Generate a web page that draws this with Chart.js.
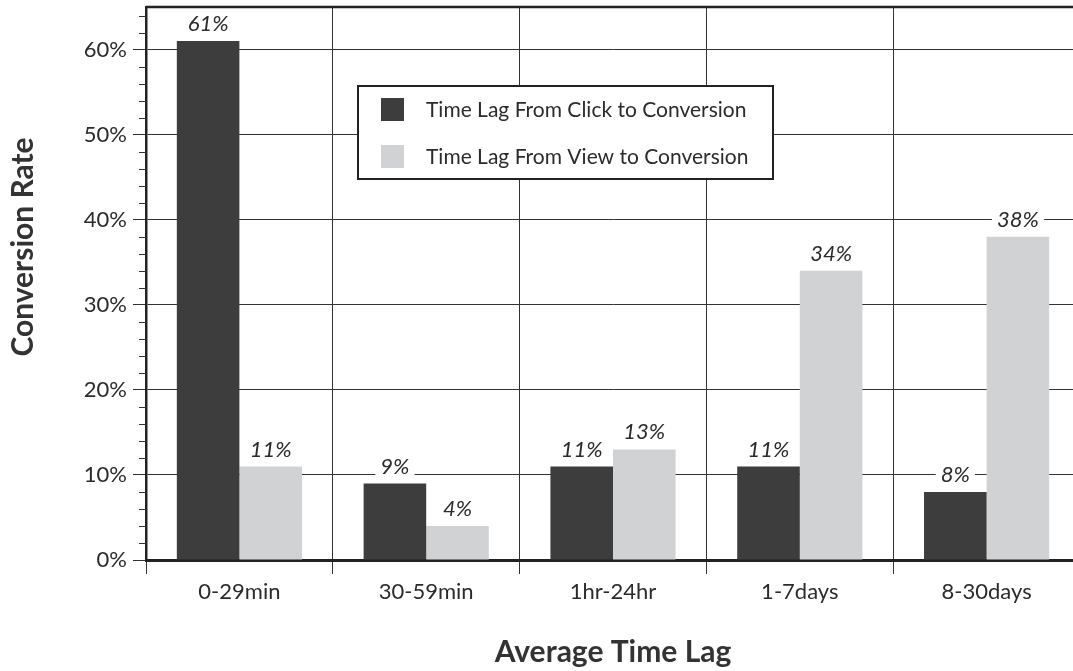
<!DOCTYPE html>
<html>
<head>
<meta charset="utf-8">
<script src="https://cdn.jsdelivr.net/npm/chart.js@4/dist/chart.umd.min.js"></script>
<style>
  html, body { margin: 0; padding: 0; background: #fff; overflow: hidden; }
  #wrap { width: 1073px; height: 671px; overflow: hidden; }
</style>
</head>
<body>
<div id="wrap"><canvas id="grafico" width="1085" height="671"></canvas></div>
<script>
// dados do grafico
const categorias = ['0-29min', '30-59min', '1hr-24hr', '1-7days', '8-30days'];
const clickParaConversao = [61, 9, 11, 11, 8];
const viewParaConversao = [11, 4, 13, 34, 38];
const nomesSeries = ['Time Lag From Click to Conversion', 'Time Lag From View to Conversion'];
const coresSeries = ['#3d3d3d', '#d1d2d4'];
const yMax = 65;
const passoMenor = 2;
const passoMaior = 10;

const FONTE = 'Lato, "Open Sans", sans-serif';
const corTexto = '#2b2b2b';
const corLinha = '#333';

// rotulos em cima das barras
const rotulosPlugin = {
  id: 'rotulos',
  afterDatasetsDraw(chart) {
    const ctx = chart.ctx;
    ctx.save();
    ctx.font = 'italic 22px ' + FONTE;
    ctx.textAlign = 'center';
    ctx.textBaseline = 'middle';
    chart.data.datasets.forEach((ds, i) => {
      const meta = chart.getDatasetMeta(i);
      meta.data.forEach((bar, j) => {
        const txt = ds.data[j] + '%';
        const w = ctx.measureText(txt).width;
        const y = bar.y - 17;
        ctx.fillStyle = '#fff';
        ctx.fillRect(bar.x - w / 2 - 5, y - 11, w + 10, 22);
        ctx.fillStyle = corTexto;
        ctx.fillText(txt, bar.x, y);
      });
    });
    ctx.restore();
  }
};

// moldura, ticks menores, titulo y e legenda
const extrasPlugin = {
  id: 'extras',
  afterDraw(chart) {
    const ctx = chart.ctx;
    const area = chart.chartArea;
    const escalaY = chart.scales.y;
    ctx.save();

    // ticks menores
    ctx.strokeStyle = corLinha;
    ctx.lineWidth = 1;
    escalaY.ticks.forEach(t => {
      if (t.value % passoMaior !== 0) {
        const y = Math.round(escalaY.getPixelForValue(t.value)) + 0.5;
        ctx.beginPath();
        ctx.moveTo(area.left - 7, y);
        ctx.lineTo(area.left, y);
        ctx.stroke();
      }
    });

    // borda de cima e direita
    ctx.strokeStyle = '#222';
    ctx.lineWidth = 2.5;
    ctx.beginPath();
    ctx.moveTo(area.left, area.top);
    ctx.lineTo(area.right, area.top);
    ctx.lineTo(area.right, area.bottom);
    ctx.stroke();

    // titulo do eixo y
    ctx.fillStyle = '#333';
    ctx.font = 'bold 30px ' + FONTE;
    ctx.textAlign = 'center';
    ctx.textBaseline = 'middle';
    ctx.translate(23, 247);
    ctx.rotate(-Math.PI / 2);
    ctx.fillText('Conversion Rate', 0, 0);
    ctx.setTransform(1, 0, 0, 1, 0, 0);

    // legenda
    const lx = 358, ly = 86, lw = 415, lh = 93;
    ctx.fillStyle = '#fff';
    ctx.fillRect(lx, ly, lw, lh);
    ctx.strokeStyle = '#222';
    ctx.lineWidth = 2;
    ctx.strokeRect(lx, ly, lw, lh);
    ctx.font = '21px ' + FONTE;
    ctx.textAlign = 'left';
    ctx.textBaseline = 'middle';
    chart.data.datasets.forEach((ds, i) => {
      const y = ly + 12 + i * 47;
      ctx.fillStyle = ds.backgroundColor;
      ctx.fillRect(lx + 23, y, 23, 23);
      ctx.fillStyle = corTexto;
      ctx.fillText(ds.label, lx + 68, y + 12);
    });
    ctx.restore();
  }
};

new Chart(document.getElementById('grafico'), {
  type: 'bar',
  data: {
    labels: categorias,
    datasets: [
      { label: nomesSeries[0], data: clickParaConversao, backgroundColor: coresSeries[0] },
      { label: nomesSeries[1], data: viewParaConversao, backgroundColor: coresSeries[1] }
    ]
  },
  options: {
    responsive: false,
    animation: false,
    layout: { padding: { left: 0, top: 7, right: 5, bottom: 0 } },
    datasets: { bar: { barPercentage: 1, categoryPercentage: 0.67 } },
    plugins: {
      legend: { display: false },
      tooltip: { enabled: false }
    },
    scales: {
      x: {
        afterFit(scale) { scale.height = 111; scale.paddingLeft = 0; scale.paddingRight = 0; },
        grid: { offset: true, color: corLinha, lineWidth: 1, tickLength: 14 },
        border: { color: '#222', width: 3 },
        ticks: { color: corTexto, font: { family: FONTE, size: 22 }, padding: 5 },
        title: {
          display: true,
          text: 'Average Time Lag',
          color: '#333',
          font: { family: FONTE, size: 30, weight: 'bold' },
          padding: { top: 0, bottom: 1 }
        }
      },
      y: {
        min: 0,
        max: yMax,
        afterFit(scale) { scale.width = 146; scale.paddingTop = 0; scale.paddingBottom = 0; },
        grid: {
          color: c => (c.tick && c.tick.value % passoMaior === 0) ? corLinha : 'rgba(0,0,0,0)',
          tickColor: c => (c.tick && c.tick.value % passoMaior === 0) ? corLinha : 'rgba(0,0,0,0)',
          lineWidth: 1,
          tickLength: 13
        },
        border: { color: '#222', width: 2.5 },
        ticks: {
          stepSize: passoMenor,
          includeBounds: false,
          autoSkip: false,
          padding: 6,
          color: corTexto,
          font: { family: FONTE, size: 22 },
          callback: v => (v % passoMaior === 0) ? v + '%' : ''
        }
      }
    }
  },
  plugins: [rotulosPlugin, extrasPlugin]
});
</script>
</body>
</html>
